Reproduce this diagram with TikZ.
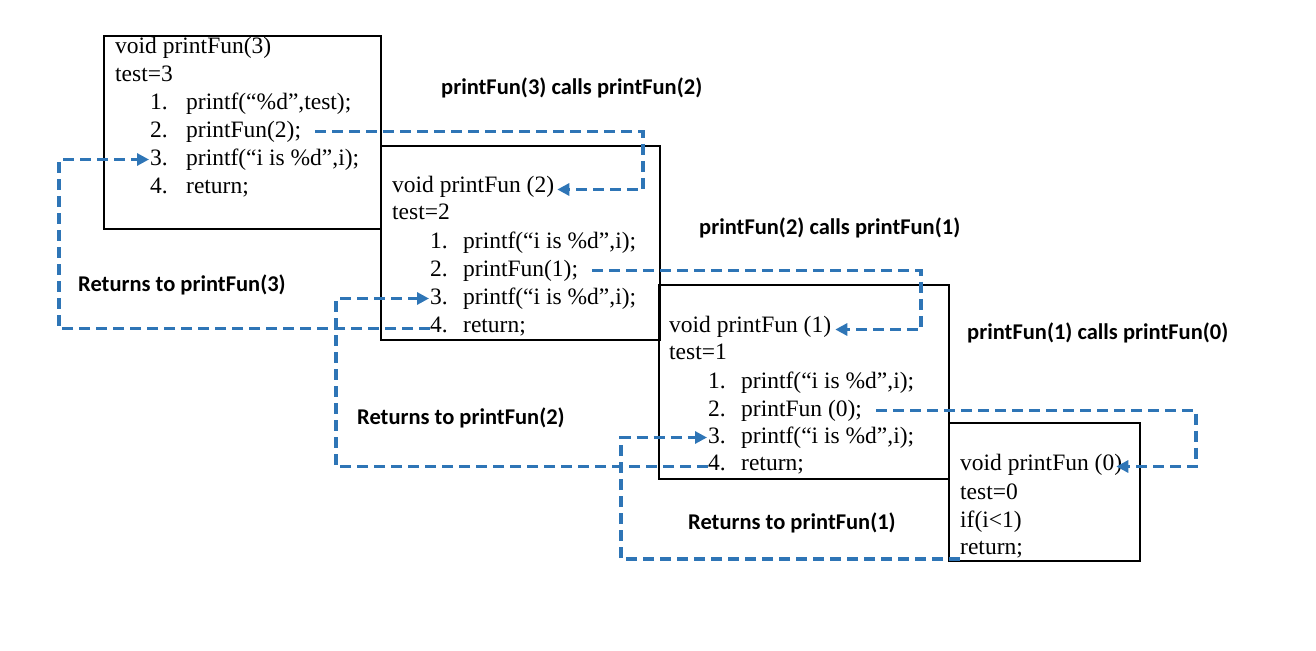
\documentclass[tikz,border=0pt]{standalone}
\usepackage{fontspec}
\setmainfont{Liberation Serif}
\newfontfamily\lblfamily{Carlito}
\usetikzlibrary{arrows.meta}
\definecolor{linkblue}{HTML}{2E75B6}
\begin{document}
\begin{tikzpicture}[x=1pt,y=-1pt,
  code/.style={font=\fontsize{23.5}{28}\selectfont, anchor=west, inner sep=0pt, text height=17pt, text depth=5pt, yshift=-1.5pt},
  lbl/.style={font=\lblfamily\bfseries\fontsize{22.5}{26}\selectfont, anchor=west, inner sep=0pt},
  frame/.style={draw, line width=1.4pt, inner sep=0pt},
  conn/.style={draw=linkblue, line width=3.4pt, dash pattern=on 11pt off 6pt},
  arr/.style={conn, -{Triangle[length=12pt,width=12pt]}}]
\useasboundingbox (0,0) rectangle (1316,650);
% frames
\node[frame, minimum width=277pt, minimum height=193pt] (B3) at (242.5,132.5) {};
\node[frame, minimum width=279pt, minimum height=194pt] (B2) at (520.5,243) {};
\node[frame, minimum width=290pt, minimum height=194pt] (B1) at (804,382) {};
\node[frame, minimum width=191pt, minimum height=138pt] (B0) at (1044.5,492) {};
% box 3
\node[code] (t3) at (115,46) {void printFun(3)};
\node[code] (s3) at (115,74) {test=3};
\node[code] (n3a) at (150,102) {1.}; \node[code] (r3a) at (186,102) {printf(“\%d”,test);};
\node[code] (n3b) at (150,130) {2.}; \node[code] (r3b) at (186,130) {printFun(2);};
\node[code] (n3c) at (150,158) {3.}; \node[code] (r3c) at (186,158) {printf(“i is \%d”,i);};
\node[code] (n3d) at (150,186) {4.}; \node[code] (r3d) at (186,186) {return;};
% box 2
\node[code] (t2) at (392,185) {void printFun (2)};
\node[code] (s2) at (392,212) {test=2};
\node[code] (n2a) at (430,241) {1.}; \node[code] (r2a) at (463,241) {printf(“i is \%d”,i);};
\node[code] (n2b) at (430,269) {2.}; \node[code] (r2b) at (463,269) {printFun(1);};
\node[code] (n2c) at (430,297) {3.}; \node[code] (r2c) at (463,297) {printf(“i is \%d”,i);};
\node[code] (n2d) at (430,325) {4.}; \node[code] (r2d) at (463,325) {return;};
% box 1
\node[code] (t1) at (669,325) {void printFun (1)};
\node[code] (s1) at (669,352) {test=1};
\node[code] (n1a) at (708,381) {1.}; \node[code] (r1a) at (741,381) {printf(“i is \%d”,i);};
\node[code] (n1b) at (708,409) {2.}; \node[code] (r1b) at (741,409) {printFun (0);};
\node[code] (n1c) at (708,436) {3.}; \node[code] (r1c) at (741,436) {printf(“i is \%d”,i);};
\node[code] (n1d) at (708,463) {4.}; \node[code] (r1d) at (741,463) {return;};
% box 0
\node[code] (t0) at (960,463) {void printFun (0)};
\node[code] (s0) at (960,492) {test=0};
\node[code] (i0) at (960,520) {if(i<1)};
\node[code] (e0) at (960,547) {return;};
% labels
\node[lbl] (L32) at (441,88) {printFun(3) calls printFun(2)};
\node[lbl] (L21) at (699,228) {printFun(2) calls printFun(1)};
\node[lbl] (L10) at (967,333) {printFun(1) calls printFun(0)};
\node[lbl] (R3) at (78,285) {Returns to printFun(3)};
\node[lbl] (R2) at (357,418) {Returns to printFun(2)};
\node[lbl] (R1) at (688,523) {Returns to printFun(1)};
% waypoints
\coordinate (k32) at (643,155);
\coordinate (k21) at (921,295);
\coordinate (k10) at (1196,435);
\coordinate (q3) at (59,240);
\coordinate (q2) at (336,380);
\coordinate (q1) at (621,500);
\coordinate (e0b) at (960,559);
% calls
\draw[arr] (r3b.east) ++(14pt,0pt) coordinate (c32) -| (k32) |- ([xshift=3pt,yshift=-3pt]t2.east);
\draw[arr] (r2b.east) ++(14pt,0pt) coordinate (c21) -| (k21) |- ([xshift=4pt,yshift=-3pt]t1.east);
\draw[arr] (r1b.east) ++(14pt,0pt) coordinate (c10) -| (k10) |- ([xshift=-6pt,yshift=-2pt]t0.east);
% returns
\draw[arr] ([yshift=-2pt]n2d.west) -| (q3) |- ([xshift=-1pt]n3c.west);
\draw[arr] ([yshift=-2pt]n1d.west) -| (q2) |- ([xshift=-1pt]n2c.west);
\draw[arr] (e0b) -| (q1) |- ([xshift=-1pt]n1c.west);
\end{tikzpicture}
\end{document}
